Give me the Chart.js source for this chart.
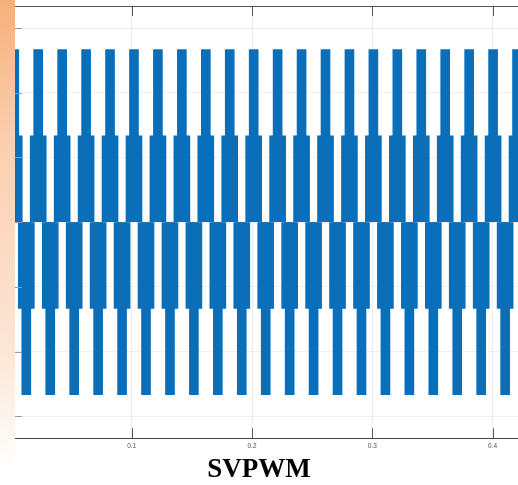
<!DOCTYPE html>
<html>
<head>
<meta charset="utf-8">
<script src="https://cdn.jsdelivr.net/npm/chart.js@4.4.1/dist/chart.umd.min.js"></script>
<style>
  html, body { margin: 0; padding: 0; background: #fff; overflow: hidden; }
  #wrap { position: relative; width: 518px; height: 485px; }
  #mark { position: absolute; left: 0; top: 0; width: 15px; height: 470px;
          background: linear-gradient(#f7b07a, #fbcfae 30%, #fde6d6 75%, rgba(253,230,214,0)); }
  canvas { position: absolute; left: 0; top: 0; }
</style>
</head>
<body>
<div id="wrap"><div id="mark"></div><canvas id="svpwm" width="518" height="485"></canvas></div>
<script>
// pulse centres (seconds)
const upperCentres = [0.0024, 0.0223, 0.0422, 0.0621, 0.0820, 0.1019, 0.1218, 0.1417, 0.1616, 0.1815, 0.2014,
                      0.2213, 0.2412, 0.2611, 0.2810, 0.3009, 0.3208, 0.3407, 0.3606, 0.3805, 0.4004, 0.4203];
const lowerCentres = [0.0124, 0.0323, 0.0522, 0.0721, 0.0920, 0.1119, 0.1318, 0.1517, 0.1716, 0.1915, 0.2114,
                      0.2313, 0.2512, 0.2711, 0.2910, 0.3109, 0.3308, 0.3507, 0.3706, 0.3905, 0.4104];
// voltage levels of the waveform (V)
const levelHigh = 533.3;
const levelLow  = 266.7;
const xTicks = [0.1, 0.2, 0.3, 0.4];
const yTicks = [-600, -400, -200, 0, 200, 400, 600];

const blue = '#0a6eb9';

// MATLAB style tick marks pointing into the axes box
const innerTicks = {
    id: 'innerTicks',
    afterDatasetsDraw(chart) {
        const { ctx, chartArea: a, scales: { x, y } } = chart;
        ctx.save();
        ctx.lineWidth = 1;
        ctx.strokeStyle = '#555';
        ctx.beginPath();
        ctx.moveTo(a.left, a.top + 0.5); ctx.lineTo(a.right, a.top + 0.5);
        xTicks.forEach(v => {
            const px = Math.round(x.getPixelForValue(v)) + 0.5;
            ctx.moveTo(px, a.top); ctx.lineTo(px, a.top + 10);
            ctx.moveTo(px, a.bottom); ctx.lineTo(px, a.bottom - 10);
        });
        ctx.stroke();
        ctx.strokeStyle = '#9a9a9a';
        ctx.beginPath();
        yTicks.forEach(v => {
            const py = Math.round(y.getPixelForValue(v)) + 0.5;
            ctx.moveTo(a.left, py); ctx.lineTo(a.left + 7, py);
        });
        ctx.stroke();
        ctx.restore();
    }
};

const bars = (centres, lo, hi, thick) => ({
    data: centres.map(c => ({ x: c, y: [lo, hi] })),
    backgroundColor: blue,
    borderWidth: 0,
    barThickness: thick,
    grouped: false,
});

new Chart(document.getElementById('svpwm'), {
    type: 'bar',
    data: {
        datasets: [
            bars(upperCentres, 0, levelLow, 16),
            bars(upperCentres, 0, levelHigh, 9),
            bars(lowerCentres, -levelLow, 0, 16),
            bars(lowerCentres, -levelHigh, 0, 9),
        ],
    },
    options: {
        responsive: false,
        animation: false,
        layout: { padding: { top: 6, left: 0, right: 0, bottom: 0 } },
        scales: {
            x: {
                type: 'linear', min: 0.003, max: 0.4211, offset: false,
                afterBuildTicks: s => { s.ticks = xTicks.map(v => ({ value: v })); },
                grid: { color: 'rgba(0,0,0,0.07)', drawTicks: false, offset: false },
                border: { display: true, color: '#444', width: 1 },
                ticks: {
                    padding: 4, color: '#4d4d4d',
                    font: { family: "'Liberation Sans', Arial, sans-serif", size: 6.5 },
                    callback: v => v.toFixed(1),
                },
            },
            y: {
                min: -668, max: 668,
                afterBuildTicks: s => { s.ticks = yTicks.map(v => ({ value: v })); },
                afterFit: s => { s.width = 15; },
                grid: { color: 'rgba(0,0,0,0.06)', drawTicks: false },
                border: { display: false },
                ticks: { display: false },
            },
        },
        plugins: {
            legend: { display: false },
            tooltip: { enabled: false },
            title: {
                display: true, position: 'bottom', text: 'SVPWM', color: '#000',
                font: { family: "'Liberation Serif', 'Times New Roman', serif", size: 27, weight: 'bold' },
                padding: { top: 0, bottom: -1.5 },
            },
        },
    },
    plugins: [innerTicks],
});
</script>
</body>
</html>
